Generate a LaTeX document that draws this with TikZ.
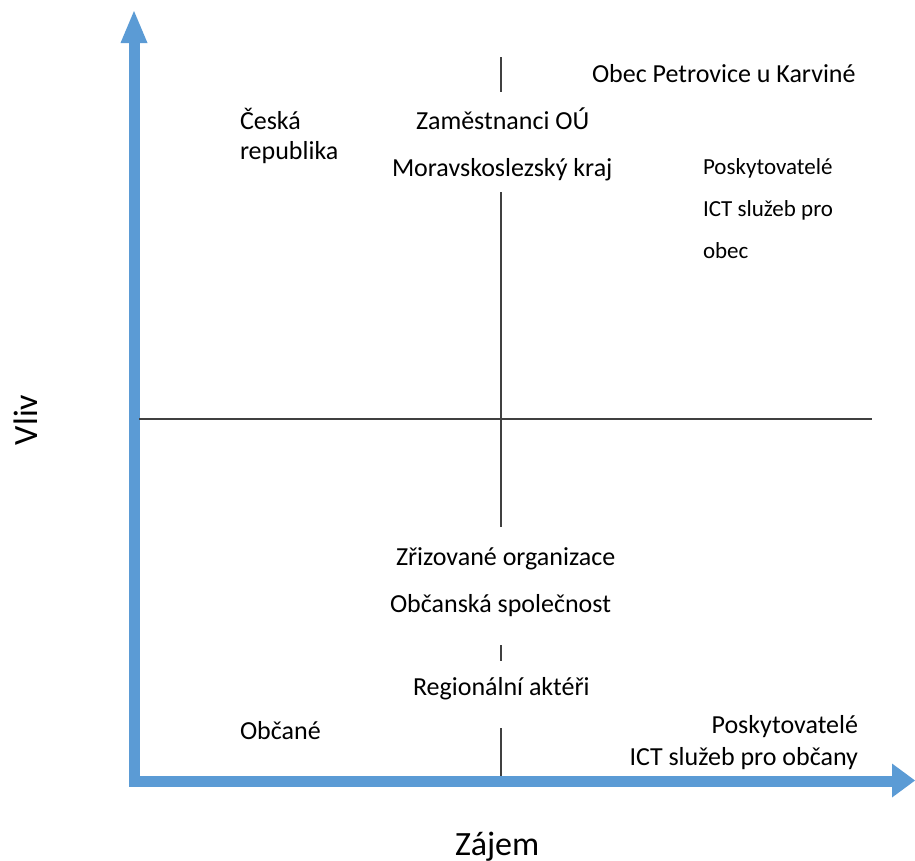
\documentclass[tikz,border=0pt]{standalone}
\usepackage{fontspec}
\setmainfont{Carlito}
\definecolor{axisblue}{HTML}{5B9BD5}
\tikzset{
  axisline/.style={draw=axisblue, line width=11pt, line join=miter},
  axishead/.style={fill=axisblue, draw=none},
  thin/.style={draw=black!75, line width=1.3pt},
  lbl/.style={inner sep=0pt, outer sep=0pt, anchor=base west, font=\fontsize{26}{31}\selectfont},
  lblsmall/.style={inner sep=0pt, outer sep=0pt, anchor=base west, font=\fontsize{23}{28}\selectfont},
  axislbl/.style={inner sep=0pt, outer sep=0pt, anchor=base west, font=\fontsize{34}{40}\selectfont},
}
\begin{document}
\begin{tikzpicture}[x=1pt,y=-1pt]
\useasboundingbox (0,0) rectangle (915,860);
% axes
\draw[axisline] (134,42) -- (134,781) -- (893,781);
\fill[axishead] (134,11) -- (120.5,43) -- (147.5,43) -- cycle;
\fill[axishead] (915,780.5) -- (892,763.5) -- (892,797.5) -- cycle;
% thin lines
\draw[thin] (139,419) -- (872,419);
\draw[thin] (501,57) -- (501,92);
\draw[thin] (501,192) -- (501,527);
\draw[thin] (501,645) -- (501,661);
\draw[thin] (501,728) -- (501,776);
% labels
\node[lbl] (obec) at (592,82) {Obec Petrovice u Karviné};
\node[lbl] (cr1) at (240,129) {Česká};
\node[lbl] (cr2) at (240,159) {republika};
\node[lbl] (zam) at (416,129) {Zaměstnanci OÚ};
\node[lbl] (msk) at (392,176) {Moravskoslezský kraj};
\node[lblsmall] (p1) at (703,174) {Poskytovatelé};
\node[lblsmall] (p2) at (703,216) {ICT služeb pro};
\node[lblsmall] (p3) at (703,258) {obec};
\node[lbl] (zri) at (396,565) {Zřizované organizace};
\node[lbl] (obs) at (390,612) {Občanská společnost};
\node[lbl] (reg) at (413,695) {Regionální aktéři};
\node[lbl] (obc) at (240,739) {Občané};
\node[lbl, anchor=base east] (q1) at (858,733) {Poskytovatelé};
\node[lbl, anchor=base east] (q2) at (858,765) {ICT služeb pro občany};
\node[axislbl, rotate=90] (vliv) at (37,445) {Vliv};
\node[axislbl] (zajem) at (455,855) {Zájem};
\end{tikzpicture}
\end{document}
